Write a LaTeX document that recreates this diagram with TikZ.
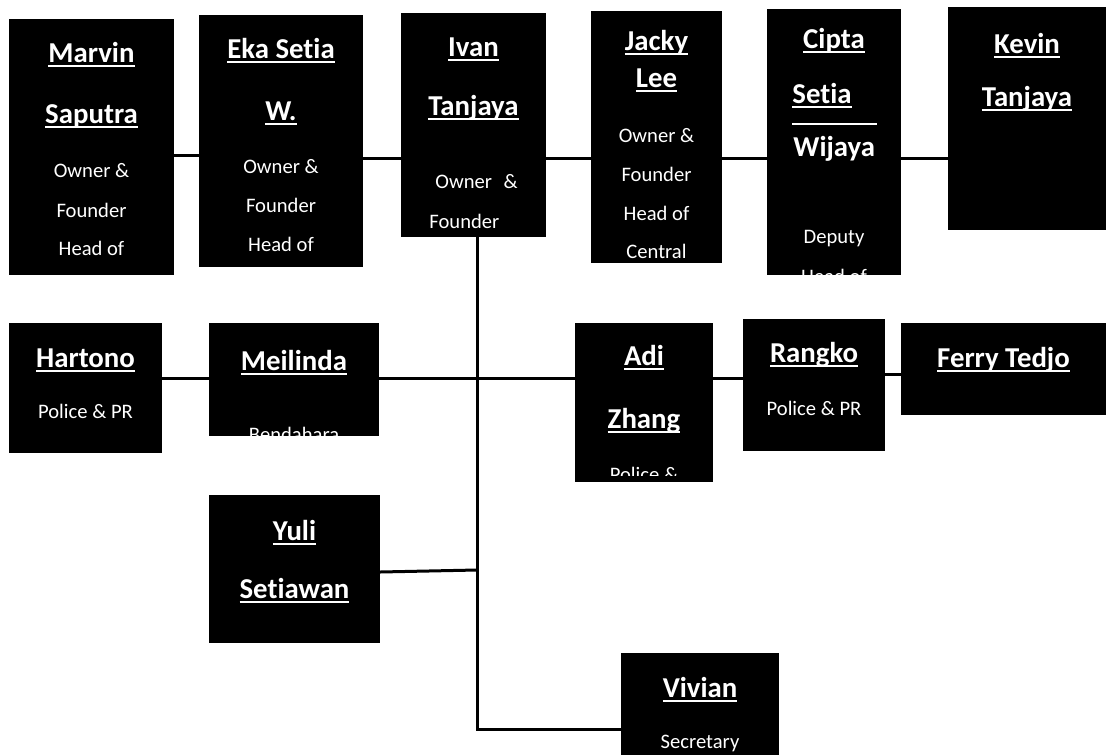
\documentclass[tikz,border=0pt]{standalone}
\usepackage{fontspec}
\setmainfont[Ligatures=NoCommon]{Carlito}
\usetikzlibrary{fit}
\newsavebox{\namebox}
\newcommand{\underscored}[1]{\sbox{\namebox}{#1}\rlap{\rule[-2.4pt]{\wd\namebox}{1pt}}\usebox{\namebox}}
\newcommand{\linkwidth}{1.5pt}
\newcommand{\boxcolor}{black}
\tikzset{
	member/.style={fill=\boxcolor, inner sep=0pt, outer sep=0pt},
	who/.style={text=white, anchor=base, inner sep=0pt, font=\fontsize{14.4}{17}\selectfont\bfseries},
	role/.style={text=white, anchor=base, inner sep=0pt, font=\fontsize{10.3}{12}\selectfont},
	link/.style={line width=\linkwidth, black}
}
\begin{document}
\begin{tikzpicture}[x=0.5pt, y=-0.5pt]
	\useasboundingbox (0, 0) rectangle (1106, 755);

	% boxes
	\node[member, fit={(9,19) (174,275)}] (Marvin) {};
	\node[member, fit={(199,15) (363,267)}] (Eka) {};
	\node[member, fit={(401,13) (546,237)}] (Ivan) {};
	\node[member, fit={(591,11) (722,263)}] (Jacky) {};
	\node[member, fit={(767,9) (901,275)}] (Cipta) {};
	\node[member, fit={(948,7) (1106,230)}] (Kevin) {};
	\node[member, fit={(9,323) (162,453)}] (Hartono) {};
	\node[member, fit={(209,323) (379,436)}] (Meilinda) {};
	\node[member, fit={(575,323) (713,482)}] (Adi) {};
	\node[member, fit={(743,319) (885,451)}] (Rangko) {};
	\node[member, fit={(901,323) (1106,415)}] (Ferry) {};
	\node[member, fit={(209,495) (380,643)}] (Yuli) {};
	\node[member, fit={(621,653) (779,755)}] (Vivian) {};

	% top row
	\draw[link] (Marvin.east |- 0,155) -- (Eka.west |- 0,155);
	\draw[link] (Eka.east |- 0,158) -- (Ivan.west |- 0,158);
	\draw[link] (Ivan.east |- 0,158) -- (Jacky.west |- 0,158);
	\draw[link] (Jacky.east |- 0,158) -- (Cipta.west |- 0,158);
	\draw[link] (Cipta.east |- 0,158) -- (Kevin.west |- 0,158);

	% trunk and second row
	\coordinate (trunk) at (477, 729);
	\draw[link] (Ivan.south -| trunk) -- (trunk) -- (Vivian.west |- trunk);
	\draw[link] (Hartono.east |- 0,378) -- (Meilinda.west |- 0,378);
	\draw[link] (Meilinda.east |- 0,378) -- (Adi.west |- 0,378);
	\draw[link] (Adi.east |- 0,378) -- (Rangko.west |- 0,378);
	\draw[link] (Rangko.east |- 0,374) -- (Ferry.west |- 0,374);
	\draw[link] (Yuli.east |- 0,572) -- (trunk |- 0,570);

	% texts
	\node[who] (marvinA) at (Marvin.north |- 0,62) {\underscored{Marvin}};
	\node[who] (marvinB) at (Marvin.north |- 0,123) {\underscored{Saputra}};
	\node[role] (marvinC) at (Marvin.north |- 0,177) {Owner \&};
	\node[role] (marvinD) at (Marvin.north |- 0,217) {Founder};
	\node[role] (marvinE) at (Marvin.north |- 0,255) {Head of};

	\node[who] (ekaA) at (Eka.north |- 0,58) {\underscored{Eka Setia}};
	\node[who] (ekaB) at (Eka.north |- 0,120) {\underscored{W.}};
	\node[role] (ekaC) at (Eka.north |- 0,173) {Owner \&};
	\node[role] (ekaD) at (Eka.north |- 0,212) {Founder};
	\node[role] (ekaE) at (Eka.north |- 0,251) {Head of};

	\node[who] (ivanA) at (Ivan.north |- 0,56) {\underscored{Ivan}};
	\node[who] (ivanB) at (Ivan.north |- 0,115) {\underscored{Tanjaya}};
	\node[role, anchor=base west] (ivanC) at (435,188) {Owner \hspace{3.5pt}\&};
	\node[role, anchor=base west] (ivanD) at (429,228) {Founder};

	\node[who] (jackyA) at (Jacky.north |- 0,50) {\underscored{Jacky}};
	\node[who] (jackyB) at (Jacky.north |- 0,87) {\underscored{Lee}};
	\node[role] (jackyC) at (Jacky.north |- 0,142) {Owner \&};
	\node[role] (jackyD) at (Jacky.north |- 0,181) {Founder};
	\node[role] (jackyE) at (Jacky.north |- 0,220) {Head of};
	\node[role] (jackyF) at (Jacky.north |- 0,258) {Central};

	\node[who] (ciptaA) at (Cipta.north |- 0,48) {\underscored{Cipta}};
	\node[who, anchor=base west] (ciptaB) at (792,103) {\underscored{Setia}};
	\draw[white, line width=1pt] (792,124) -- (877,124);
	\node[who, anchor=base west] (ciptaC) at (793,156) {Wijaya};
	\node[role] (ciptaD) at (Cipta.north |- 0,243) {Deputy};
	\begin{scope}
		\clip (Cipta.south west) rectangle (Cipta.north east);
		\node[role] (ciptaE) at (Cipta.north |- 0,283) {Head of};
	\end{scope}

	\node[who] (kevinA) at (Kevin.north |- 0,53) {\underscored{Kevin}};
	\node[who] (kevinB) at (Kevin.north |- 0,106) {\underscored{Tanjaya}};

	\node[who] (hartonoA) at (Hartono.north |- 0,367) {\underscored{Hartono}};
	\node[role] (hartonoB) at (Hartono.north |- 0,418) {Police \& PR};

	\node[who] (meilindaA) at (Meilinda.north |- 0,370) {\underscored{Meilinda}};
	\begin{scope}
		\clip (Meilinda.south west) rectangle (Meilinda.north east);
		\node[role] (meilindaB) at (Meilinda.north |- 0,441) {Bendahara};
	\end{scope}

	\node[who] (adiA) at (Adi.north |- 0,365) {\underscored{Adi}};
	\node[who] (adiB) at (Adi.north |- 0,428) {\underscored{Zhang}};
	\begin{scope}
		\clip (Adi.north west) rectangle (Adi.east |- 0,475);
		\node[role] (adiC) at (Adi.north |- 0,481) {Police \&};
	\end{scope}

	\node[who] (rangkoA) at (Rangko.north |- 0,362) {\underscored{Rangko}};
	\node[role] (rangkoB) at (Rangko.north |- 0,415) {Police \& PR};

	\node[who] (ferryA) at (Ferry.north |- 0,367) {\underscored{Ferry Tedjo}};

	\node[who] (yuliA) at (Yuli.north |- 0,540) {\underscored{Yuli}};
	\node[who] (yuliB) at (Yuli.north |- 0,598) {\underscored{Setiawan}};

	\node[who] (vivianA) at (Vivian.north |- 0,697) {\underscored{Vivian}};
	\node[role] (vivianB) at (Vivian.north |- 0,748) {Secretary};
\end{tikzpicture}
\end{document}
